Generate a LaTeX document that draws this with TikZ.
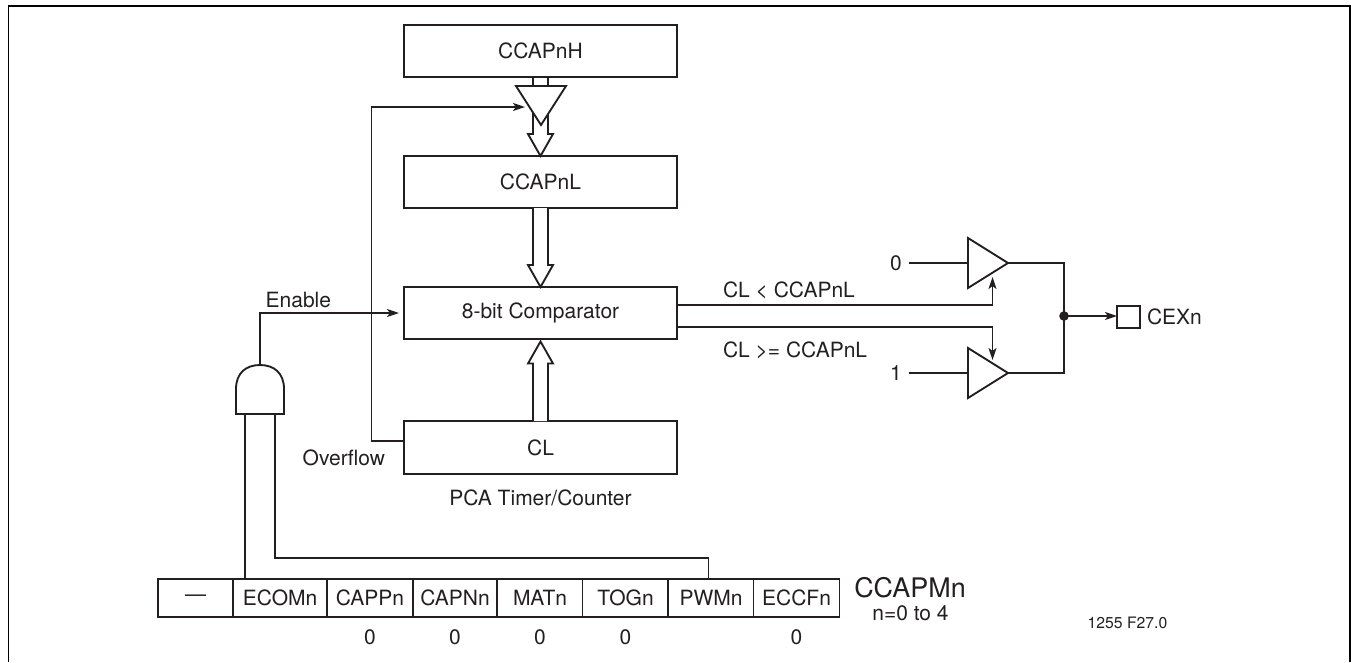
\documentclass[tikz,border=0pt]{standalone}
\usepackage{fontspec}
\setmainfont{TeX Gyre Heros}
\usetikzlibrary{arrows.meta,calc,shapes.geometric}
\definecolor{ink}{HTML}{231F20}
\tikzset{
  wire/.style={draw=ink,line width=1.3pt,line join=miter},
  sig/.style={wire,-{Stealth[length=9pt,width=6pt,inset=2.2pt]}},
  regbox/.style={draw=ink,line width=1.4pt,fill=white,minimum width=204.75pt,inner sep=0pt,outer sep=0pt,text=ink},
  cell/.style={draw=ink,line width=1.3pt,fill=white,minimum height=28.5pt,inner sep=0pt,outer sep=0pt,text=ink},
  lbl/.style={inner sep=0pt,outer sep=0pt,text=ink},
  buf/.style={draw=ink,line width=1.4pt,fill=white,isosceles triangle,isosceles triangle stretches,inner sep=0pt,outer sep=0pt},
  frameline/.style={draw=black,line width=1.3pt,line join=miter},
}
\newcommand{\openbus}[3]{%
  \draw[wire,fill=white,line width=1.4pt,line join=miter] ($(#1)+(-7.5,0)$) -- ($(#2)+(-7.5,#3*-22)$) -- ($(#2)+(-12.5,#3*-22)$) -- (#2) -- ($(#2)+(12.5,#3*-22)$) -- ($(#2)+(7.5,#3*-22)$) -- ($(#1)+(7.5,0)$);}
\begin{document}
\begin{tikzpicture}[x=0.75pt,y=-0.75pt,font=\fontsize{15.75}{18}\selectfont]
\useasboundingbox (0,0) rectangle (1351,662);
\draw[frameline] (8.5,662) -- (8.5,6) -- (1350,6) -- (1350,662);

% registers
\node[regbox,minimum height=39pt] (hreg) at (540.5,51) {CCAPnH};
\node[regbox,minimum height=39pt] (lreg) at (540.5,182) {CCAPnL};
\node[regbox,minimum height=39pt] (cmp) at (540.5,313) {8-bit Comparator};
\node[regbox,minimum height=39.75pt] (clreg) at (540.5,447.5) {CL};
\node[lbl] (pca) at (540.5,498) {PCA Timer/Counter};

% buses
\draw[wire,line width=1.4pt] ($(hreg.south)+(-7.5,0)$) -- ++(0,12);
\draw[wire,line width=1.4pt] ($(hreg.south)+(7.5,0)$) -- ++(0,12);
\coordinate (busstart) at ($(hreg.south)+(0,28)$);
\openbus{busstart}{lreg.north}{1}
\openbus{lreg.south}{cmp.north}{1}
\coordinate (uptip) at ($(cmp.south)+(0,2.5)$);
\openbus{clreg.north}{uptip}{-1}

% load buffer
\node[buf,shape border rotate=270,minimum width=37.5pt,minimum height=29.25pt,anchor=lower side] (load) at (541,86) {};

% overflow
\coordinate (ovfa) at ($(clreg.west)+(0,-6.5)$);
\coordinate (ovfb) at (371.5,441);
\coordinate (ovfc) at (371.5,107);
\coordinate (ovfd) at (525,107);
\draw[sig] (ovfa) -- (ovfb) -- (ovfc) -- (ovfd);
\node[lbl,anchor=west] (ovf) at (302.7,458) {Overflow};

% control register
\node[cell,minimum width=56.25pt] (c1) at (195.5,598) {—};
\node[cell,minimum width=70.5pt] (c2) at (280,598) {ECOMn};
\node[cell,minimum width=64.5pt] (c3) at (370,598) {CAPPn};
\node[cell,minimum width=63pt] (c4) at (455,598) {CAPNn};
\node[cell,minimum width=64.5pt] (c5) at (540,598) {MATn};
\node[cell,minimum width=64.5pt] (c6) at (625.5,598) {TOGn};
\node[cell,minimum width=64.5pt] (c7) at (711,598) {PWMn};
\node[cell,minimum width=64.5pt] (c8) at (796.5,598) {ECCFn};
\foreach \c in {c3,c4,c5,c6,c8}{\node[lbl] (z\c) at (\c |- 0,637) {0};}

\node[lbl,font=\fontsize{20.2}{22}\selectfont] (pmn) at (910,588) {CCAPMn};
\node[lbl] (pmr) at (910.5,613) {n=0 to 4};
\node[lbl,font=\fontsize{11.8}{14}\selectfont] (fig) at (1127.5,623) {1255 F27.0};

% AND gate
\coordinate (andtop) at (260,365);
\draw[wire,line width=1.4pt,fill=white] (236,414) -- (236,389) .. controls (236,373) and (246,365) .. (andtop) .. controls (274,365) and (284,373) .. (284,389) -- (284,414) -- cycle;
\coordinate (ina) at (245,414);
\coordinate (inb) at (275,414);
\coordinate (pwmt) at (708.5,579);
\coordinate (ecomt) at (245,579);
\draw[wire] (ina) -- (ecomt);
\draw[wire] (inb) -- (275,557.7) -- (708.5,557.7) -- (pwmt);
\draw[sig,shorten >=3.75pt] (andtop) |- (cmp.west);
\node[lbl,anchor=west] (enb) at (265.7,300) {Enable};

% output drivers
\node[buf,minimum width=37.5pt,minimum height=30pt,anchor=lower side] (b0) at (968,263) {};
\node[buf,minimum width=37.5pt,minimum height=30pt,anchor=lower side] (b1) at (968,373) {};
\node[lbl] (v0) at (896,263) {0};
\node[lbl] (v1) at (896,373) {1};
\coordinate (v0e) at (908.5,263);
\coordinate (v1e) at (908.5,373);
\draw[wire] (v0e) -- (b0.lower side);
\draw[wire] (v1e) -- (b1.lower side);

\coordinate (oa) at (677,305);
\coordinate (ob) at (677,327);
\coordinate (ta) at (992.5,277);
\coordinate (tb) at (992.5,360);
\draw[sig] (oa) -| (ta);
\draw[sig] (ob) -| (tb);
\node[lbl,anchor=west] (lt) at (723,290) {CL < CCAPnL};
\node[lbl,anchor=west] (ge) at (723,350) {CL >= CCAPnL};

\coordinate (jn) at (1064,316);
\draw[wire] (b0.apex) -| (jn);
\draw[wire] (b1.apex) -| (jn);
\fill[ink] (jn) circle (3.6pt);
\node[draw=ink,line width=1.3pt,minimum width=17.25pt,minimum height=16.5pt,inner sep=0pt,outer sep=0pt] (cex) at (1128.5,317) {};
\draw[sig] (jn) -- (jn -| cex.west);
\node[lbl,anchor=west] (cext) at (1147,317) {CEXn};
\end{tikzpicture}
\end{document}
